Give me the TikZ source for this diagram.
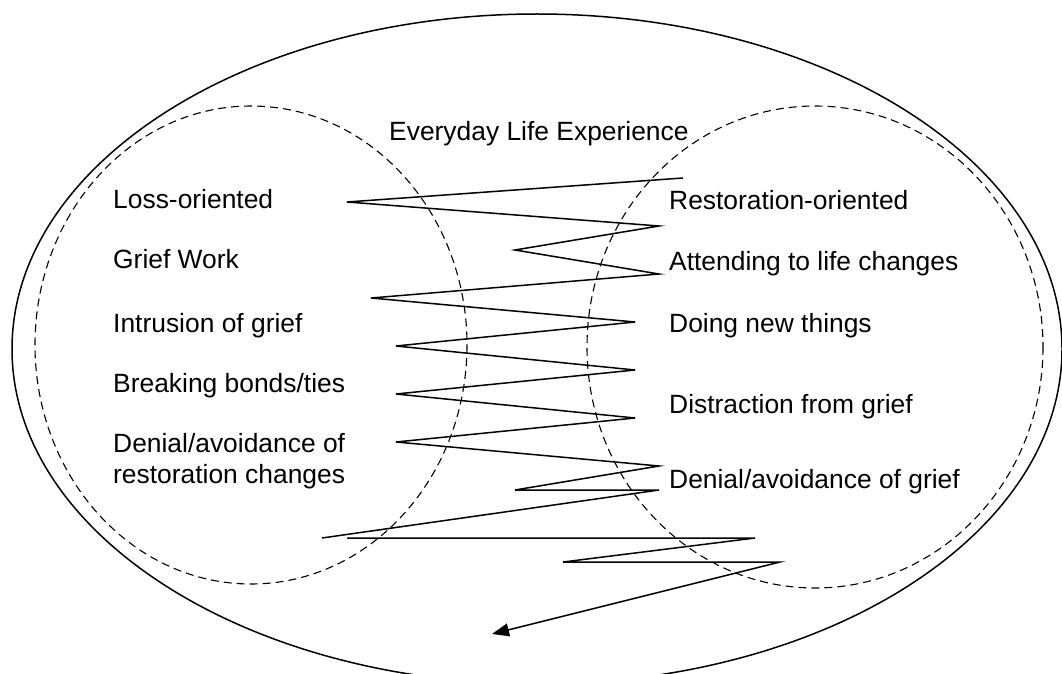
\documentclass[tikz,border=0pt]{standalone}
\usepackage{fontspec}
\setmainfont{Liberation Sans}
\usetikzlibrary{arrows.meta}
\begin{document}
\begin{tikzpicture}[x=1pt,y=-1pt,
  lbl/.style={anchor=base west,inner sep=0pt,font=\fontsize{26.4}{31}\selectfont},
  outerring/.style={draw,line width=1.5pt},
  halfring/.style={draw,line width=1.1pt,dash pattern=on 8pt off 5pt},
  zig/.style={draw,line width=1.5pt,line join=miter}]
\useasboundingbox (0,0) rectangle (1062,674);
% ellipses
\draw[outerring] (537,349) ellipse [x radius=525, y radius=335];
\draw[halfring] (251,345) ellipse [x radius=216, y radius=239];
\draw[halfring] (815,347) ellipse [x radius=228, y radius=241];
% texts
\node[lbl] (title) at (389,140) {Everyday Life Experience};
\node[lbl] (l1) at (113,208) {Loss-oriented};
\node[lbl] (l2) at (113,268) {Grief Work};
\node[lbl] (l3) at (113,332) {Intrusion of grief};
\node[lbl] (l4) at (113,392) {Breaking bonds/ties};
\node[lbl] (l5) at (113,452) {Denial/avoidance of};
\node[lbl] (l6) at (113,483) {restoration changes};
\node[lbl] (r1) at (669,209) {Restoration-oriented};
\node[lbl] (r2) at (669,270) {Attending to life changes};
\node[lbl] (r3) at (669,332) {Doing new things};
\node[lbl] (r4) at (669,413) {Distraction from grief};
\node[lbl] (r5) at (669,488) {Denial/avoidance of grief};
% zigzag coordinates
\coordinate (p0) at (683,178);
\coordinate (p1) at (347,202);
\coordinate (p2) at (659,226);
\coordinate (p3) at (515,250);
\coordinate (p4) at (659,274);
\coordinate (p5) at (371,298);
\coordinate (p6) at (635,322);
\coordinate (p7) at (396,346);
\coordinate (p8) at (635,370);
\coordinate (p9) at (396,394);
\coordinate (p10) at (635,418);
\coordinate (p11) at (396,442);
\coordinate (p12) at (659,466);
\coordinate (p13) at (515,490);
\coordinate (p14) at (659,490);
\coordinate (p15) at (322,538);
\coordinate (q0) at (347,538);
\coordinate (q1) at (755,538);
\coordinate (q2) at (563,562);
\coordinate (q3) at (780,562);
\coordinate (q4) at (492,634);
\draw[zig] (p0) -- (p1) -- (p2) -- (p3) -- (p4) -- (p5) -- (p6) -- (p7) -- (p8)
  -- (p9) -- (p10) -- (p11) -- (p12) -- (p13) -- (p14) -- (p15);
\draw[zig,-{Triangle[length=17pt,width=13pt]}] (q0) -- (q1) -- (q2) -- (q3) -- (q4);
\end{tikzpicture}
\end{document}
